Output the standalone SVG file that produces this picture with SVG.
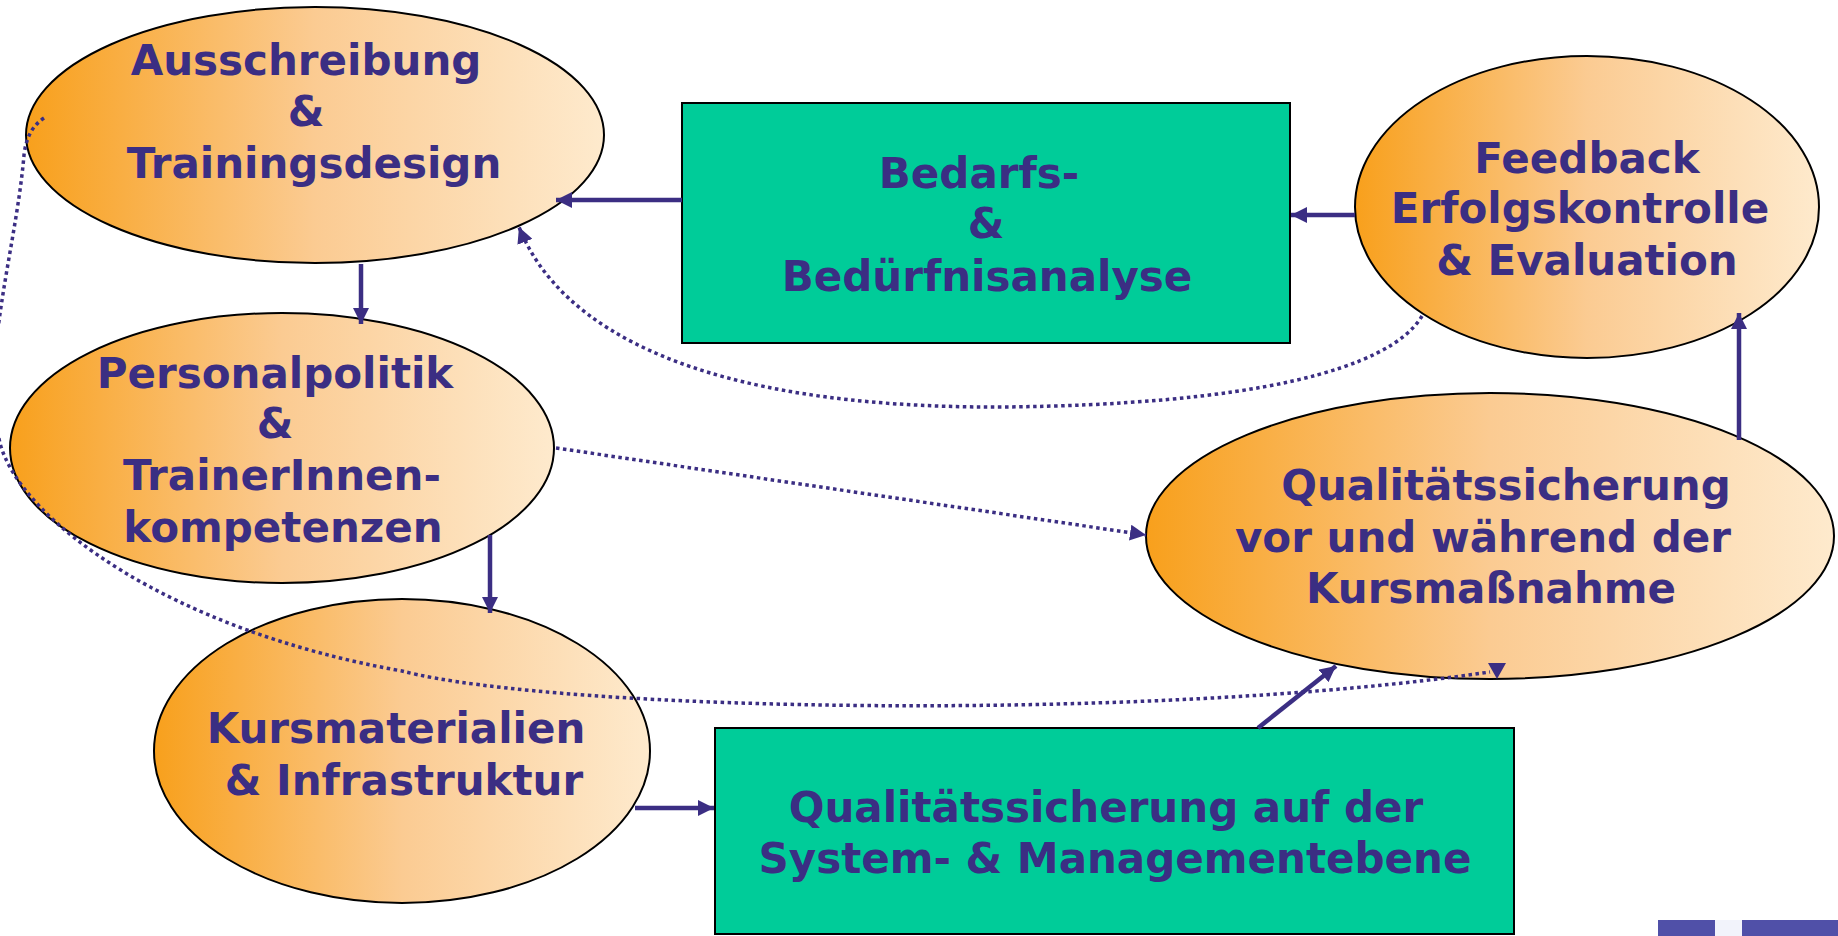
<svg xmlns="http://www.w3.org/2000/svg" width="1838" height="936" viewBox="0 0 1838 936">
<style>
.t{font-family:"DejaVu Sans","Verdana",sans-serif;font-weight:bold;font-size:42px;fill:#3B2E83;text-anchor:middle}
.ell{fill:url(#og);stroke:#000;stroke-width:2}
.box{fill:#00CC99;stroke:#000;stroke-width:2}
.sl{fill:none;stroke:#3B2E83;stroke-width:4.5}
.dl{fill:none;stroke:#3B2E83;stroke-width:3.5;stroke-dasharray:3.5 3.5}
.ah{fill:#3B2E83}
</style>
<defs>
<linearGradient id="og" x1="0" y1="0" x2="1" y2="0">
<stop offset="0" stop-color="#F8A01C"/>
<stop offset="0.5" stop-color="#FBCB92"/>
<stop offset="1" stop-color="#FEEACD"/>
</linearGradient>
<marker id="arr" viewBox="0 0 16 16" markerWidth="16" markerHeight="16" refX="16" refY="8" markerUnits="userSpaceOnUse" orient="auto">
<path d="M0,0 L16,8 L0,16 z" fill="#3B2E83"/>
</marker>
</defs>
<rect width="1838" height="936" fill="#fff"/>

<g id="node-ausschreibung">
<ellipse class="ell" cx="315" cy="135" rx="289" ry="128"/>
<text class="t" x="306" y="75">Ausschreibung</text>
<text class="t" x="306" y="126">&amp;</text>
<text class="t" x="314" y="178">Trainingsdesign</text>
</g>

<g id="node-personalpolitik">
<ellipse class="ell" cx="282" cy="448" rx="272" ry="135"/>
<text class="t" x="275" y="388">Personalpolitik</text>
<text class="t" x="275" y="438">&amp;</text>
<text class="t" x="282" y="490">TrainerInnen-</text>
<text class="t" x="283" y="542">kompetenzen</text>
</g>

<g id="node-kursmaterialien">
<ellipse class="ell" cx="402" cy="751" rx="248" ry="152"/>
<text class="t" x="396" y="743">Kursmaterialien</text>
<text class="t" x="404" y="795">&amp; Infrastruktur</text>
</g>

<g id="node-bedarfsanalyse">
<rect class="box" x="682" y="103" width="608" height="240"/>
<text class="t" x="979" y="188">Bedarfs-</text>
<text class="t" x="986" y="238">&amp;</text>
<text class="t" x="987" y="291">Bedürfnisanalyse</text>
</g>

<g id="node-feedback">
<ellipse class="ell" cx="1587" cy="207" rx="232" ry="151"/>
<text class="t" x="1587" y="173">Feedback</text>
<text class="t" x="1580" y="223">Erfolgskontrolle</text>
<text class="t" x="1587" y="275">&amp; Evaluation</text>
</g>

<g id="node-qs-kurs">
<ellipse class="ell" cx="1490" cy="536" rx="344" ry="143"/>
<text class="t" x="1506" y="500">Qualitätssicherung</text>
<text class="t" x="1483" y="552">vor und während der</text>
<text class="t" x="1491" y="603">Kursmaßnahme</text>
</g>

<g id="node-qs-system">
<rect class="box" x="715" y="728" width="799" height="206"/>
<text class="t" x="1106" y="822">Qualitätssicherung auf der</text>
<text class="t" x="1115" y="873">System- &amp; Managementebene</text>
</g>

<g id="connectors">
<path class="sl" d="M682,200 L556,200" marker-end="url(#arr)"/>
<path class="sl" d="M1355,215 L1291,215" marker-end="url(#arr)"/>
<path class="sl" d="M361,264 L361,324" marker-end="url(#arr)"/>
<path class="sl" d="M490,535 L490,613" marker-end="url(#arr)"/>
<path class="sl" d="M635,808 L714,808" marker-end="url(#arr)"/>
<path class="sl" d="M1258,728 L1336,666" marker-end="url(#arr)"/>
<path class="sl" d="M1739,440 L1739,313" marker-end="url(#arr)"/>
<path class="dl" d="M1422,316 C1390,370 1250,405 1000,407 C700,408 560,330 519,227" marker-end="url(#arr)"/>
<path class="dl" d="M556,448 L1146,535" marker-end="url(#arr)"/>
<path class="dl" d="M44,118 C32,126 26,138 24,155 C16,250 -20,360 0,443 C20,520 170,630 402,671 C560,712 1150,722 1490,672"/>
<polygon class="ah" points="1488,663 1506,663 1497,679"/>
</g>

<g id="corner-logo">
<rect x="1658" y="920" width="57" height="16" fill="#5050A8"/>
<rect x="1715" y="920" width="27" height="16" fill="#F2F3FB"/>
<rect x="1742" y="920" width="96" height="16" fill="#5050A8"/>
</g>
</svg>
